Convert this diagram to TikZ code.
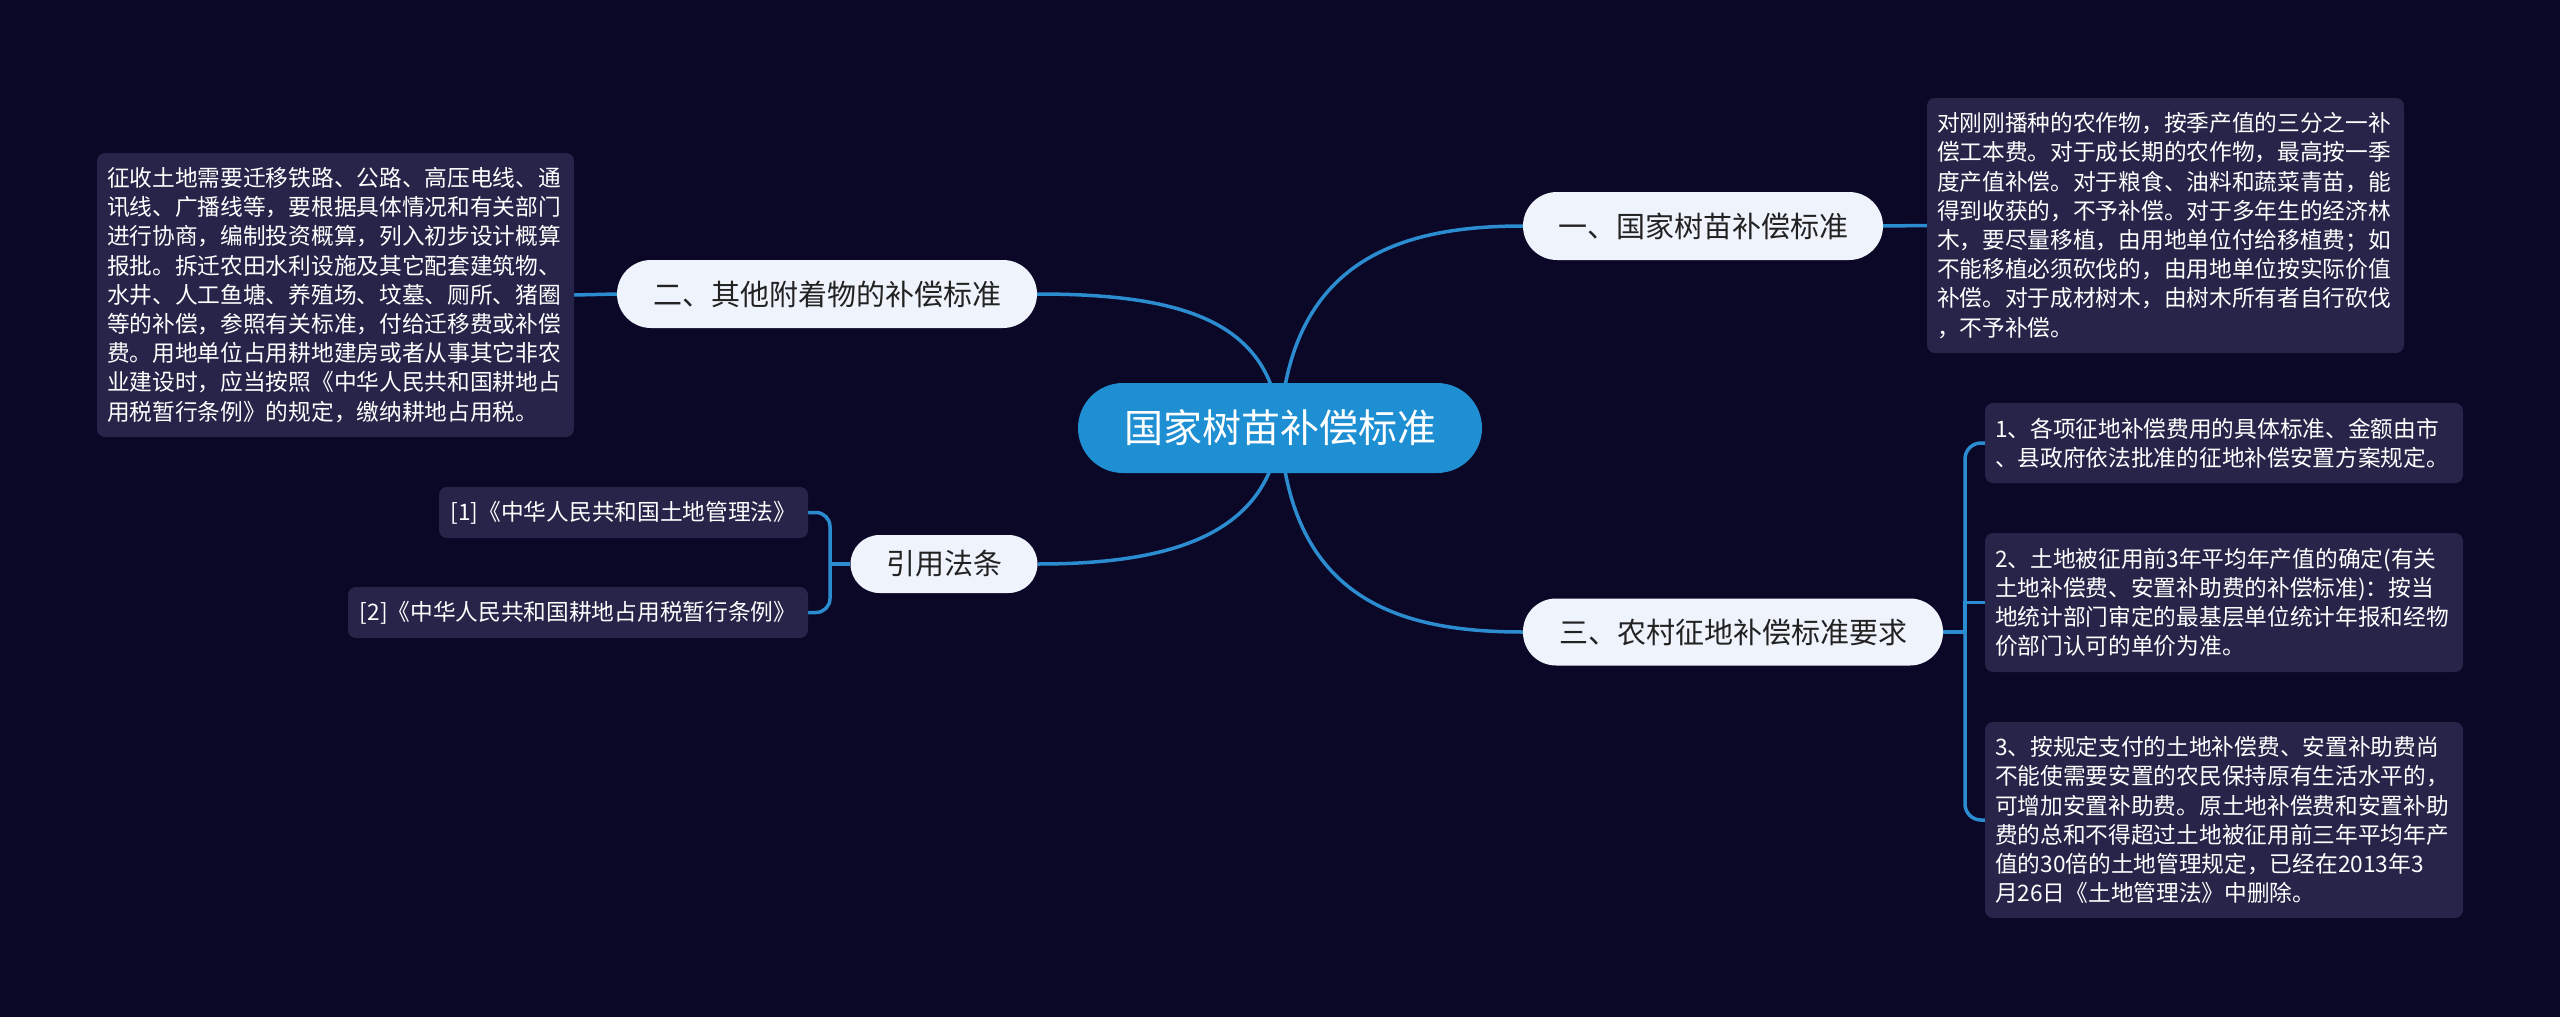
\documentclass[tikz,border=0pt]{standalone}
\usepackage{fontspec}
\setmainfont{Noto Sans CJK SC}
\definecolor{bg}{HTML}{0B0727}
\definecolor{mainblue}{HTML}{1E8FD2}
\definecolor{linkblue}{HTML}{2C8CD0}
\definecolor{topicfill}{HTML}{EEF3FC}
\definecolor{topictext}{HTML}{222222}
\definecolor{leaffill}{HTML}{262448}
\pgfdeclarelayer{backlayer}
\pgfdeclarelayer{edgelayer}
\pgfsetlayers{backlayer,edgelayer,main}
\begin{document}
\begin{tikzpicture}[x=1pt,y=-1pt,
  central/.style={fill=mainblue, rounded corners=45, minimum width=404, minimum height=90, text=white, font=\fontsize{39}{47}\selectfont, inner sep=0},
  topic/.style={fill=topicfill, text=topictext, font=\fontsize{29}{35}\selectfont, inner sep=0},
  leaf/.style={fill=leaffill, rounded corners=8, text=white, font=\fontsize{22.7}{29.2}\selectfont, align=left, inner xsep=10, inner ysep=0},
  link/.style={draw=linkblue, line width=3.5},
]
\begin{pgfonlayer}{backlayer}
\fill[bg] (0,0) rectangle (2560,1017);
\useasboundingbox (0,0) rectangle (2560,1017);
\end{pgfonlayer}

\node[central] (c) at (1280,428) {国家树苗补偿标准};

\node[topic, rounded corners=34, minimum width=360, minimum height=68] (n1) at (1703,226) {一、国家树苗补偿标准};
\node[topic, rounded corners=34, minimum width=420, minimum height=68] (n2) at (827,294) {二、其他附着物的补偿标准};
\node[topic, rounded corners=33, minimum width=420, minimum height=67] (n3) at (1733,632) {三、农村征地补偿标准要求};
\node[topic, rounded corners=29, minimum width=187, minimum height=58] (n4) at (944,564) {引用法条};

\node[leaf, text width=457, minimum height=255] (l1) at (2165.5,225.5) {对刚刚播种的农作物，按季产值的三分之一补\\
偿工本费。对于成长期的农作物，最高按一季\\
度产值补偿。对于粮食、油料和蔬菜青苗，能\\
得到收获的，不予补偿。对于多年生的经济林\\
木，要尽量移植，由用地单位付给移植费；如\\
不能移植必须砍伐的，由用地单位按实际价值\\
补偿。对于成材树木，由树木所有者自行砍伐\\
，不予补偿。};

\node[leaf, text width=457, minimum height=284] (l2) at (335.5,295) {征收土地需要迁移铁路、公路、高压电线、通\\
讯线、广播线等，要根据具体情况和有关部门\\
进行协商，编制投资概算，列入初步设计概算\\
报批。拆迁农田水利设施及其它配套建筑物、\\
水井、人工鱼塘、养殖场、坟墓、厕所、猪圈\\
等的补偿，参照有关标准，付给迁移费或补偿\\
费。用地单位占用耕地建房或者从事其它非农\\
业建设时，应当按照《中华人民共和国耕地占\\
用税暂行条例》的规定，缴纳耕地占用税。};

\node[leaf, text width=458, minimum height=80] (r1) at (2224,443) {1、各项征地补偿费用的具体标准、金额由市\\
、县政府依法批准的征地补偿安置方案规定。};

\node[leaf, text width=458, minimum height=139] (r2) at (2224,602.5) {2、土地被征用前3年平均年产值的确定(有关\\
土地补偿费、安置补助费的补偿标准)：按当\\
地统计部门审定的最基层单位统计年报和经物\\
价部门认可的单价为准。};

\node[leaf, text width=458, minimum height=196] (r3) at (2224,820) {3、按规定支付的土地补偿费、安置补助费尚\\
不能使需要安置的农民保持原有生活水平的，\\
可增加安置补助费。原土地补偿费和安置补助\\
费的总和不得超过土地被征用前三年平均年产\\
值的30倍的土地管理规定，已经在2013年3\\
月26日《土地管理法》中删除。};

\node[leaf, align=center, minimum width=369, minimum height=51] (f1) at (623.5,512.5) {[1]《中华人民共和国土地管理法》};
\node[leaf, align=center, minimum width=460, minimum height=51] (f2) at (578,612.5) {[2]《中华人民共和国耕地占用税暂行条例》};

\coordinate (b3) at (1965,632);
\coordinate (b4) at (830,564);

\begin{pgfonlayer}{edgelayer}
\draw[link] (c.center) .. controls (1290,260) and (1400,226) .. (n1.west);
\draw[link] (c.center) .. controls (1272,320) and (1180,294) .. (n2.east);
\draw[link] (c.center) .. controls (1290,600) and (1400,632) .. (n3.west);
\draw[link] (c.center) .. controls (1270,540) and (1160,564) .. (n4.east);
\draw[link] (n1.east) -- (l1.west);
\draw[link] (n2.west) -- (l2.east);
\draw[link] (n3.east) -- (b3);
\draw[link, rounded corners=16] (b3) |- (r1.west);
\draw[link] (b3) |- (r2.west);
\draw[link, rounded corners=16] (b3) |- (r3.west);
\draw[link] (n4.west) -- (b4);
\draw[link, rounded corners=14] (b4) |- (f1.east);
\draw[link, rounded corners=14] (b4) |- (f2.east);
\end{pgfonlayer}
\end{tikzpicture}
\end{document}
